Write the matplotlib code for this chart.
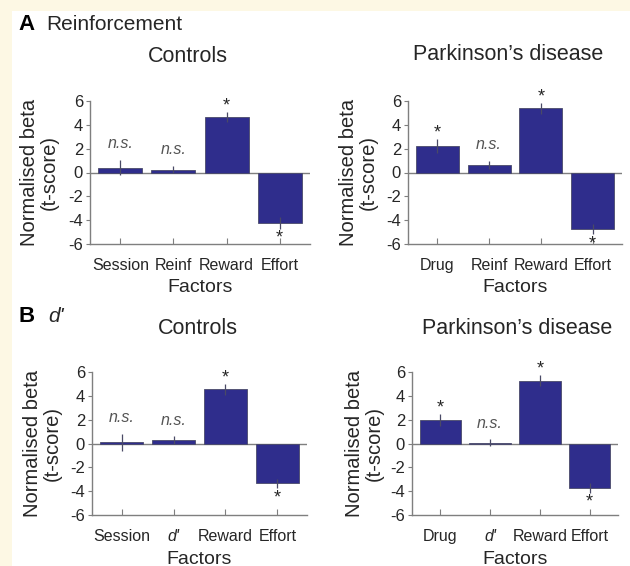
import matplotlib
matplotlib.use("Agg")
import matplotlib.pyplot as plt
from matplotlib.patches import Rectangle

plt.rcParams['font.family'] = ['Liberation Sans', 'DejaVu Sans']

# ----- data -----
ctrl_reinf_labels = ['Session', 'Reinf', 'Reward', 'Effort']
ctrl_reinf = [0.4, 0.25, 4.65, -4.2]
ctrl_reinf_err = [0.65, 0.3, 0.45, 0.5]
ctrl_reinf_sig = ['n.s.', 'n.s.', '*', '*']

pd_reinf_labels = ['Drug', 'Reinf', 'Reward', 'Effort']
pd_reinf = [2.2, 0.65, 5.4, -4.75]
pd_reinf_err = [0.6, 0.35, 0.45, 0.45]
pd_reinf_sig = ['*', 'n.s.', '*', '*']

ctrl_d_labels = ['Session', "d'", 'Reward', 'Effort']
ctrl_d = [0.1, 0.3, 4.55, -3.35]
ctrl_d_err = [0.7, 0.3, 0.45, 0.4]
ctrl_d_sig = ['n.s.', 'n.s.', '*', '*']

pd_d_labels = ['Drug', "d'", 'Reward', 'Effort']
pd_d = [1.95, 0.05, 5.27, -3.75]
pd_d_err = [0.5, 0.3, 0.45, 0.4]
pd_d_sig = ['*', 'n.s.', '*', '*']

yticks = [-6, -4, -2, 0, 2, 4, 6]

BAR = '#2f2d8c'
GREY = '#7f7f7f'
TXT = '#262626'
CREAM = '#fdf8e4'

W, H = 630, 566
fig = plt.figure(figsize=(W / 100, H / 100), dpi=100)
fig.patch.set_facecolor('white')
# cream strips along top and left edges
fig.patches.append(Rectangle((0, 1 - 11 / H), 1, 11 / H, transform=fig.transFigure,
                             facecolor=CREAM, edgecolor='none', zorder=-1))
fig.patches.append(Rectangle((0, 0), 12 / W, 1, transform=fig.transFigure,
                             facecolor=CREAM, edgecolor='none', zorder=-1))


def px_axes(left, right, top, bottom):
    return fig.add_axes([left / W, 1 - bottom / H, (right - left) / W, (bottom - top) / H])


def draw_panel(ax, labels, vals, errs, sig):
    x = list(range(1, len(vals) + 1))
    ax.bar(x, vals, width=0.83, color=BAR, edgecolor='#4a4a6a', linewidth=0.6, zorder=2)
    ax.errorbar(x, vals, yerr=errs, fmt='none', ecolor='#4a4a66', elinewidth=0.9,
                capsize=0, zorder=3)
    ax.axhline(0, color=GREY, lw=1.0, zorder=1)
    ax.set_xlim(0.43, 4.57)
    ax.set_ylim(-6, 6)
    ax.set_yticks(yticks)
    ax.set_yticklabels([str(t) for t in yticks])
    ax.set_xticks(x)
    ax.set_xticklabels(labels)
    for lab in ax.get_xticklabels():
        if lab.get_text() == "d'":
            lab.set_fontstyle('italic')
    for s in ['top', 'right']:
        ax.spines[s].set_visible(False)
    for s in ['left', 'bottom']:
        ax.spines[s].set_color(GREY)
        ax.spines[s].set_linewidth(1.0)
    ax.tick_params(axis='y', direction='out', length=3, width=0.8, color=GREY,
                   pad=2, labelsize=12, labelcolor=TXT)
    ax.tick_params(axis='x', direction='in', length=4, width=0.8, color=GREY,
                   pad=10, labelsize=11.5, labelcolor=TXT)
    ax.patch.set_alpha(0)

    for xi, v, e, s in zip(x, vals, errs, sig):
        if s == 'n.s.':
            ax.annotate('n.s.', xy=(xi, v + e), xytext=(0, 8.5), textcoords='offset points',
                        ha='center', va='baseline', fontsize=11.5, style='italic', color='#555555')
        elif v >= 0:
            ax.annotate('*', xy=(xi, v + e), xytext=(0, 1.0), textcoords='offset points',
                        ha='center', va='baseline', fontsize=13, color=TXT, annotation_clip=False)
        else:
            ax.annotate('*', xy=(xi, v - e), xytext=(0, -10), textcoords='offset points',
                        ha='center', va='baseline', fontsize=13, color=TXT, annotation_clip=False)

    ax.text(-51 / 220, 0.5, 'Normalised beta\n(t-score)', transform=ax.transAxes,
            rotation=90, ha='center', va='center', multialignment='center',
            fontsize=14.5, color=TXT, linespacing=1.05)
    ax.text(0.5, -44 / 143, 'Factors', transform=ax.transAxes, ha='center', va='center',
            fontsize=14, color=TXT)


ax1 = px_axes(90, 310, 101, 244)
draw_panel(ax1, ctrl_reinf_labels, ctrl_reinf, ctrl_reinf_err, ctrl_reinf_sig)
ax2 = px_axes(408, 622, 101, 244)
draw_panel(ax2, pd_reinf_labels, pd_reinf, pd_reinf_err, pd_reinf_sig)
ax3 = px_axes(92, 307, 372, 515)
draw_panel(ax3, ctrl_d_labels, ctrl_d, ctrl_d_err, ctrl_d_sig)
ax4 = px_axes(412, 618, 372, 515)
draw_panel(ax4, pd_d_labels, pd_d, pd_d_err, pd_d_sig)

# panel letters and titles
fig.text(18 / W, 1 - 25 / H, 'A', fontsize=16, fontweight='bold', color='black', va='center')
fig.text(46 / W, 1 - 25 / H, 'Reinforcement', fontsize=15, color=TXT, va='center')
fig.text(18 / W, 1 - 317 / H, 'B', fontsize=16, fontweight='bold', color='black', va='center')
fig.text(48 / W, 1 - 317 / H, "d'", fontsize=15, style='italic', color=TXT, va='center')

fig.text(188 / W, 1 - 57 / H, 'Controls', fontsize=15.5, color=TXT, ha='center', va='center')
fig.text(508 / W, 1 - 55 / H, 'Parkinson\u2019s disease', fontsize=15.5, color=TXT,
         ha='center', va='center')
fig.text(198 / W, 1 - 328 / H, 'Controls', fontsize=15.5, color=TXT, ha='center', va='center')
fig.text(517 / W, 1 - 329 / H, 'Parkinson\u2019s disease', fontsize=15.5, color=TXT,
         ha='center', va='center')

fig.savefig('out.png', dpi=100, facecolor=fig.get_facecolor())
